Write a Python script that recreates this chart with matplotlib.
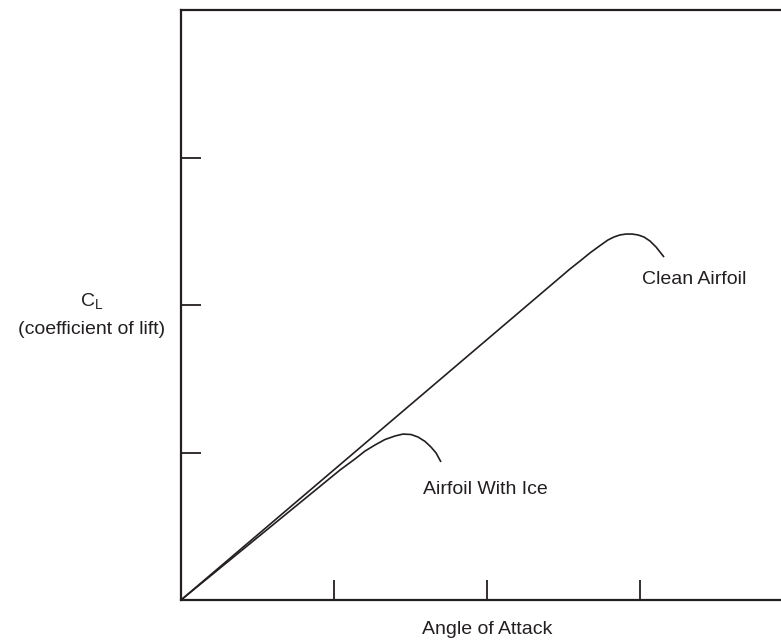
import matplotlib
matplotlib.use("Agg")
import matplotlib.pyplot as plt

plt.rcParams['font.family'] = ['Liberation Sans', 'DejaVu Sans']
plt.rcParams['mathtext.fontset'] = 'custom'
plt.rcParams['mathtext.rm'] = 'Liberation Sans'

INK = "#231f20"

# curves (angle of attack, lift coefficient), arbitrary units
clean_alpha = [0.0, 2.542, 2.608, 2.673, 2.739, 2.791, 2.830, 2.869, 2.908, 2.948,
               2.987, 3.026, 3.065, 3.105, 3.157]
clean_cl = [0.0, 2.244, 2.298, 2.353, 2.403, 2.441, 2.461, 2.475, 2.481, 2.481,
            2.475, 2.461, 2.434, 2.393, 2.325]

ice_alpha = [0.0, 1.039, 1.137, 1.203, 1.268, 1.333, 1.399, 1.451, 1.503, 1.549,
             1.595, 1.634, 1.667, 1.699]
ice_cl = [0.0, 0.881, 0.956, 1.010, 1.051, 1.088, 1.112, 1.125, 1.122, 1.105,
          1.075, 1.037, 0.997, 0.936]

x_ticks = [1, 2, 3]
y_ticks = [1, 2, 3]

fig = plt.figure(figsize=(7.81, 6.42), dpi=100)
ax = fig.add_axes([181/781, 42/642, 612/781, 590/642])

ax.plot(clean_alpha, clean_cl, color=INK, lw=1.2, solid_capstyle='butt', solid_joinstyle='round')
ax.plot(ice_alpha, ice_cl, color=INK, lw=1.2, solid_capstyle='butt', solid_joinstyle='round')

ax.set_xlim(0, 4)
ax.set_ylim(0, 4)
ax.set_xticks(x_ticks)
ax.set_yticks(y_ticks)
ax.set_xticklabels([])
ax.set_yticklabels([])
ax.tick_params(direction='in', length=14.5, width=1.3, color=INK)
for s in ax.spines.values():
    s.set_linewidth(1.6)
    s.set_color(INK)

fs = 14
ax.text(3.013, 2.17, "Clean Airfoil", fontsize=fs, color=INK, ha='left', va='center')
ax.text(1.582, 0.746, "Airfoil With Ice", fontsize=fs, color=INK, ha='left', va='center')

fig.text(92/781, 1 - 302/642, r"C$_{\mathrm{L}}$", fontsize=fs, color=INK, ha='center', va='center')
fig.text(92/781, 1 - 330/642, "(coefficient of lift)", fontsize=fs, color=INK, ha='center', va='center')
fig.text(487/781, 1 - 630/642, "Angle of Attack", fontsize=fs, color=INK, ha='center', va='center')

fig.savefig("out.png", dpi=100)
